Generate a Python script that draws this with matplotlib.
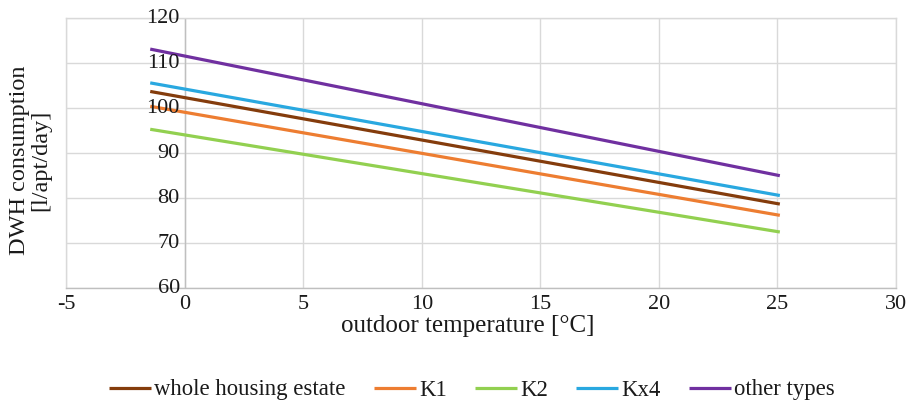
import matplotlib
matplotlib.use("Agg")
import matplotlib.pyplot as plt

plt.rcParams['font.family'] = ['Liberation Serif', 'DejaVu Serif']
plt.rcParams['axes.unicode_minus'] = False

# Linear DWH consumption trends vs outdoor temperature
temperature = [-1.45, 25.1]
series_names = ["whole housing estate", "K1", "K2", "Kx4", "other types"]
whole_estate = [103.7, 78.7]
k1 = [100.4, 76.2]
k2 = [95.3, 72.5]
kx4 = [105.6, 80.6]
other_types = [113.1, 85.0]
series_values = [whole_estate, k1, k2, kx4, other_types]
colors = ["#843C0C", "#ED7D31", "#92D050", "#29A8E0", "#7030A0"]

x_ticks = [-5, 0, 5, 10, 15, 20, 25, 30]
y_ticks = [60, 70, 80, 90, 100, 110, 120]

text_color = "#1a1a1a"
fig = plt.figure(figsize=(9.12, 4.03), dpi=100)
ax = fig.add_axes([0.0724, 0.2846, 0.9101, 0.6707])

for name, vals, c in zip(series_names, series_values, colors):
    ax.plot(temperature, vals, color=c, lw=2.3, label=name, solid_capstyle='butt')

ax.set_xlim(-5, 30)
ax.set_ylim(60, 120)
ax.set_xticks(x_ticks)
ax.set_yticks(y_ticks)
ax.grid(True, color="#D9D9D9", lw=1.0)
ax.set_axisbelow(True)
for s in ["top", "right", "left"]:
    ax.spines[s].set_color("#D9D9D9")
    ax.spines[s].set_linewidth(1.0)
ax.spines["bottom"].set_color("#BFBFBF")
ax.spines["bottom"].set_linewidth(1.0)
ax.axvline(0, color="#BFBFBF", lw=1.0, zorder=1.5)

ax.tick_params(axis="both", length=0, labelsize=16, colors=text_color)
ax.tick_params(axis="x", pad=5)
ax.set_yticklabels([])
for v in y_ticks:
    ax.text(-0.2, v, str(v), ha="right", va="center", fontsize=16, color=text_color)

fig.text(468 / 912, 1 - 326 / 403, "outdoor temperature [°C]", ha="center",
         va="center", fontsize=18, color=text_color)
fig.text(0.033, 0.603, "DWH consumption\n[l/apt/day]", rotation=90, ha="center",
         va="center", fontsize=17.5, color=text_color, linespacing=1.05)

leg = fig.legend(*ax.get_legend_handles_labels(), loc="center",
                 bbox_to_anchor=(0.5175, 1 - 390 / 403), ncol=5, frameon=False,
                 fontsize=16.4, handlelength=1.85, handletextpad=0.12,
                 columnspacing=1.25, borderaxespad=0, borderpad=0)
for t in leg.get_texts():
    t.set_color(text_color)

fig.savefig("out.png", dpi=100)
